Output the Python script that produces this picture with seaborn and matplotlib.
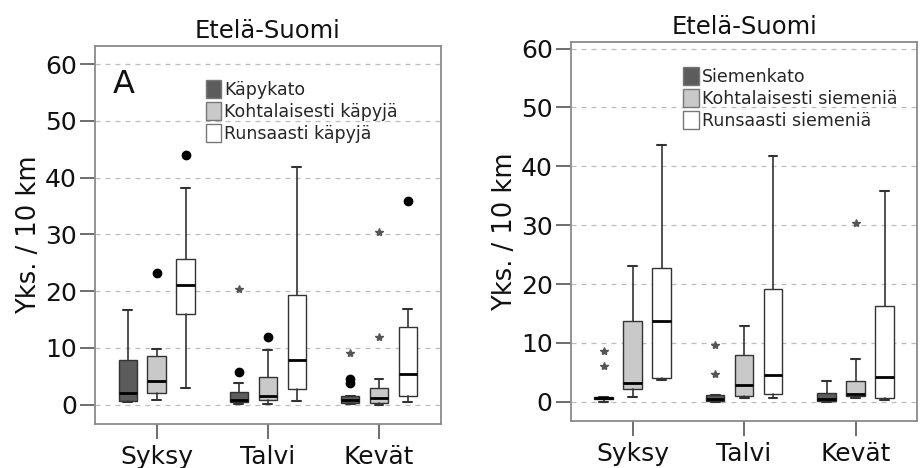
import numpy as np
import pandas as pd
import seaborn as sns
import matplotlib
matplotlib.use("Agg")
import matplotlib.pyplot as plt
from matplotlib.patches import Patch

seasons = ["Syksy", "Talvi", "Kevät"]
panel_title = "Etelä-Suomi"
y_label = "Yks. / 10 km"
a_labels = ["Käpykato", "Kohtalaisesti käpyjä", "Runsaasti käpyjä"]
b_labels = ["Siemenkato", "Kohtalaisesti siemeniä", "Runsaasti siemeniä"]
box_colors = ["#5c5c5c", "#c9c9c9", "#ffffff"]

# Panel A: rows = class (dark, light, white), columns = season
a_whislo = [[0.5, 0.2, 0.1], [0.9, 0.1, 0.0], [2.9, 0.6, 0.5]]
a_q1 = [[0.6, 0.4, 0.3], [2.1, 0.9, 0.3], [16.0, 2.8, 1.6]]
a_med = [[2.1, 0.9, 0.9], [4.1, 1.6, 1.2], [21.1, 7.9, 5.4]]
a_q3 = [[7.8, 2.2, 1.5], [8.6, 4.9, 2.9], [25.7, 19.4, 13.7]]
a_whishi = [[16.7, 3.9, 1.5], [9.8, 9.6, 4.6], [38.2, 41.8, 16.9]]
a_outliers = [[[], [5.7], [4.5, 3.9]], [[23.2], [12.0], []], [[43.9], [], [35.9]]]
a_extremes = [[[], [20.4], [9.1]], [[], [], [12.0, 30.4]], [[], [], []]]

# Panel B
b_whislo = [[0.0, 0.0, 0.0], [0.85, 0.6, 0.7], [3.7, 0.6, 0.3]]
b_q1 = [[0.4, 0.1, 0.1], [2.1, 1.0, 1.0], [4.1, 1.4, 0.6]]
b_med = [[0.7, 0.5, 0.4], [3.2, 2.9, 1.4], [13.8, 4.6, 4.2]]
b_q3 = [[0.85, 1.2, 1.5], [13.8, 8.0, 3.6], [22.8, 19.2, 16.2]]
b_whishi = [[0.85, 1.2, 3.5], [23.1, 12.9, 7.2], [43.7, 41.8, 35.8]]
b_outliers = [[[], [], []], [[], [], []], [[], [], []]]
b_extremes = [[[8.6, 6.1], [9.6, 4.8], []], [[], [], [30.4]], [[], [], []]]

sns.set_theme(style="white")
plt.rcParams["font.family"] = ["DejaVu Sans"]

fig = plt.figure(figsize=(9.22, 4.68), dpi=100)
axA = fig.add_axes([0.103, 0.094, 0.375, 0.808])
axB = fig.add_axes([0.619, 0.100, 0.376, 0.810])

offsets = [-0.26, 0.0, 0.26]
edge = "#333333"


def draw_panel(ax, whislo, q1, med, q3, whishi, outliers, extremes, labels, ylim, leg_xy):
    ax.set_axisbelow(True)
    ax.yaxis.grid(True, linestyle=(0, (4, 4)), color="#bdbdbd", linewidth=0.9)
    pal = sns.color_palette(box_colors)
    for i in range(3):
        stats = []
        for s in range(3):
            stats.append(dict(whislo=whislo[i][s], q1=q1[i][s], med=med[i][s],
                              q3=q3[i][s], whishi=whishi[i][s], fliers=outliers[i][s]))
        pos = np.arange(len(seasons)) + offsets[i]
        ax.bxp(stats, positions=pos, widths=0.165, patch_artist=True, manage_ticks=False,
               capwidths=0.08,
               boxprops=dict(facecolor=pal[i], edgecolor=edge, linewidth=1.0),
               medianprops=dict(color="black", linewidth=2.0),
               whiskerprops=dict(color=edge, linewidth=1.2),
               capprops=dict(color=edge, linewidth=1.5),
               flierprops=dict(marker="o", markerfacecolor="black", markeredgecolor="black",
                               markersize=6))
        for s in range(3):
            ys = extremes[i][s]
            if ys:
                ax.plot([pos[s]] * len(ys), ys, ls="none", marker="*", color="#555555",
                        markersize=6)
    ax.set_xlim(-0.555, 2.555)
    ax.set_ylim(*ylim)
    ax.set_yticks([0, 10, 20, 30, 40, 50, 60])
    ax.set_xticks(np.arange(len(seasons)))
    ax.set_xticklabels(seasons)
    ax.tick_params(axis="both", direction="out", length=11, width=1.2, color="#555555",
                   labelsize=18, pad=2, labelcolor="#111111")
    ax.tick_params(axis="y", left=True)
    ax.tick_params(axis="x", bottom=True, pad=4)
    for sp in ax.spines.values():
        sp.set_color("#8a8a8a")
        sp.set_linewidth(1.3)
    ax.set_title(panel_title, fontsize=17.5, pad=6, color="#111111")
    ax.set_ylabel(y_label, fontsize=18.5, labelpad=2, color="#111111")
    handles = [Patch(facecolor=pal[i], edgecolor="#777777", linewidth=1.0) for i in range(3)]
    ax.legend(handles, labels, loc="upper left", bbox_to_anchor=leg_xy, frameon=False,
              fontsize=12.5, handlelength=0.9, handleheight=1.2, handletextpad=0.15,
              borderpad=0, borderaxespad=0, labelspacing=0.2)


draw_panel(axA, a_whislo, a_q1, a_med, a_q3, a_whishi, a_outliers, a_extremes,
           a_labels, (-3.4, 63.2), (0.32, 0.91))
axA.text(0.05, 0.94, "A", transform=axA.transAxes, fontsize=23, va="top", ha="left",
         color="#111111")
draw_panel(axB, b_whislo, b_q1, b_med, b_q3, b_whishi, b_outliers, b_extremes,
           b_labels, (-3.3, 61.1), (0.325, 0.935))

fig.savefig("out.png", dpi=100)
